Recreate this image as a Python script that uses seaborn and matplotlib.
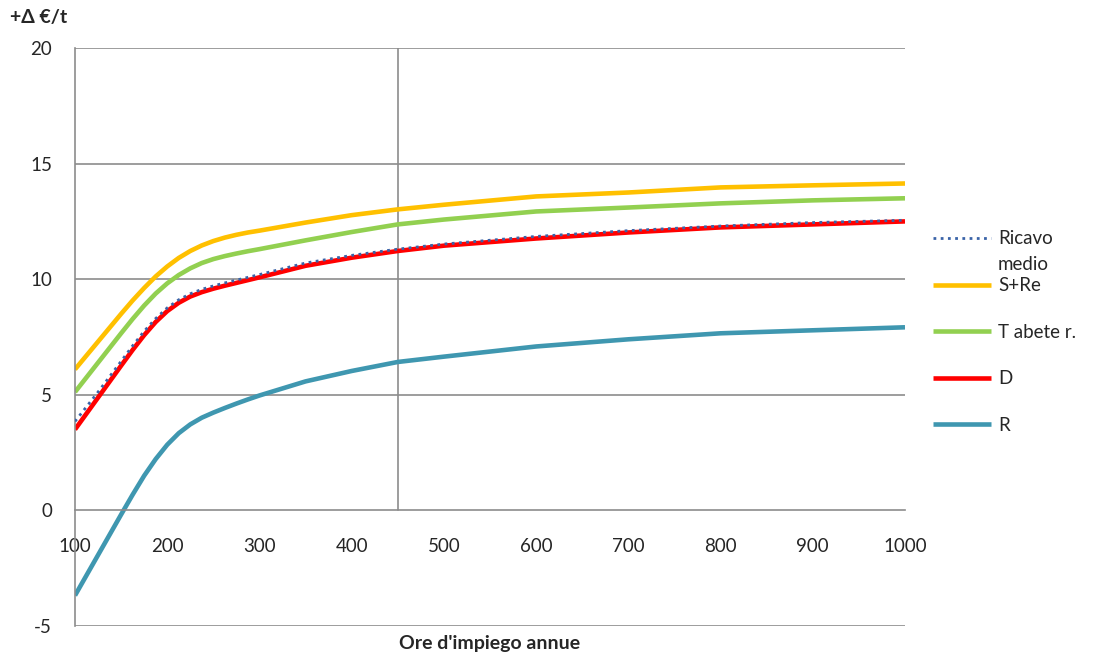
import numpy as np
import pandas as pd
import matplotlib
matplotlib.use("Agg")
import matplotlib.pyplot as plt
import seaborn as sns

ore = [100, 125, 150, 162.5, 175, 187.5, 200, 212.5, 225, 237.5, 250, 262.5, 275, 287.5, 300,
       350, 400, 450, 500, 600, 700, 800, 900, 1000]
ricavo_medio = [3.85, 5.12, 6.45, 7.12, 7.75, 8.3, 8.76, 9.11, 9.37, 9.56, 9.71, 9.84, 9.96, 10.08, 10.2,
                10.7, 11.03, 11.3, 11.52, 11.85, 12.1, 12.3, 12.45, 12.55]
s_re = [6.1, 7.3, 8.5, 9.08, 9.62, 10.12, 10.55, 10.92, 11.22, 11.46, 11.65, 11.8, 11.92, 12.02, 12.1,
        12.45, 12.77, 13.02, 13.22, 13.58, 13.75, 13.97, 14.06, 14.14]
t_abete = [5.12, 6.39, 7.66, 8.28, 8.86, 9.38, 9.82, 10.18, 10.47, 10.7, 10.87, 11.0, 11.11, 11.21, 11.3,
           11.68, 12.04, 12.37, 12.58, 12.93, 13.1, 13.28, 13.41, 13.5]
d_vals = [3.5, 4.88, 6.26, 6.94, 7.58, 8.15, 8.62, 8.98, 9.25, 9.44, 9.59, 9.72, 9.84, 9.96, 10.08,
          10.58, 10.93, 11.22, 11.45, 11.76, 12.02, 12.24, 12.37, 12.5]
r_vals = [-3.68, -1.93, -0.18, 0.68, 1.5, 2.22, 2.84, 3.34, 3.72, 4.01, 4.23, 4.43, 4.62, 4.8, 4.97,
          5.58, 6.03, 6.42, 6.65, 7.09, 7.4, 7.66, 7.79, 7.92]

series_names = ["Ricavo medio", "S+Re", "T abete r.", "D", "R"]
series_vals = [ricavo_medio, s_re, t_abete, d_vals, r_vals]
colors = ["#3A63A8", "#FFC000", "#92D050", "#FF0000", "#3F97B0"]

rows = []
for name, vals in zip(series_names, series_vals):
    for x, y in zip(ore, vals):
        rows.append({"ore": x, "val": y, "serie": name})
df = pd.DataFrame(rows)

sns.set_style("white")
plt.rcParams["font.family"] = ["Lato", "DejaVu Sans"]
plt.rcParams["axes.unicode_minus"] = False

fig = plt.figure(figsize=(10.93, 6.55), dpi=100)
ax = fig.add_axes([75/1093, 29/655, 830/1093, 578/655])

grid_c = "#8C8C8C"
for yv in [-5, 5, 10, 15, 20]:
    ax.axhline(yv, color=grid_c, lw=1.2, zorder=0.5)
ax.plot([450, 450], [0, 20], color=grid_c, lw=1.2, zorder=0.5)

order = ["S+Re", "T abete r.", "D", "R", "Ricavo medio"]
for name in order:
    i = series_names.index(name)
    sub = df[df["serie"] == name]
    if name == "Ricavo medio":
        sns.lineplot(data=sub, x="ore", y="val", ax=ax, color=colors[i], lw=2.0,
                     linestyle=(0, (1, 1.6)), label=name, zorder=3, legend=False)
    else:
        sns.lineplot(data=sub, x="ore", y="val", ax=ax, color=colors[i], lw=3.3,
                     label=name, zorder=2, legend=False,
                     solid_joinstyle="round", solid_capstyle="butt")

ax.set_xlim(100, 1000)
ax.set_ylim(-5, 20)
ax.set_xticks(range(100, 1001, 100))
ax.set_yticks(range(-5, 21, 5))

for s in ["top", "right"]:
    ax.spines[s].set_visible(False)
ax.spines["bottom"].set_position(("data", 0))
ax.spines["bottom"].set_color(grid_c)
ax.spines["left"].set_color(grid_c)
ax.spines["bottom"].set_linewidth(1.2)
ax.spines["left"].set_linewidth(1.2)

ax.tick_params(axis="x", direction="out", length=5, width=1.2, color=grid_c, pad=15, labelsize=13.5)
ax.tick_params(axis="y", direction="out", length=7.5, width=1.2, color=grid_c, pad=9, labelsize=13.5)
ax.set_xlabel("")
ax.set_ylabel("")

fig.text(10/1093, 1 - 17/655, "+Δ €/t", fontsize=14, fontweight="bold", va="center", ha="left")
fig.text(490/1093, 1 - 643/655, "Ore d'impiego annue", fontsize=14, fontweight="bold", va="center", ha="center")

handles, labels = ax.get_legend_handles_labels()
hmap = dict(zip(labels, handles))
leg_labels = ["Ricavo", "S+Re", "T abete r.", "D", "R"]
leg = fig.legend([hmap[l] for l in series_names], leg_labels, loc="upper left",
                 bbox_to_anchor=(925.5/1093, 1 - 223/655), frameon=False, fontsize=13.5,
                 handlelength=3.1, labelspacing=1.58, handletextpad=0.37, borderaxespad=0,
                 borderpad=0.4)

# second line of the first legend label ("Ricavo medio")
fig.canvas.draw()
t0 = leg.get_texts()[0]
bb = t0.get_window_extent(fig.canvas.get_renderer())
fig.text(bb.x0 / fig.bbox.width, (bb.y0 - 25) / fig.bbox.height, "medio",
         fontsize=13.5, ha="left", va="bottom")

fig.savefig("out.png", dpi=100)
